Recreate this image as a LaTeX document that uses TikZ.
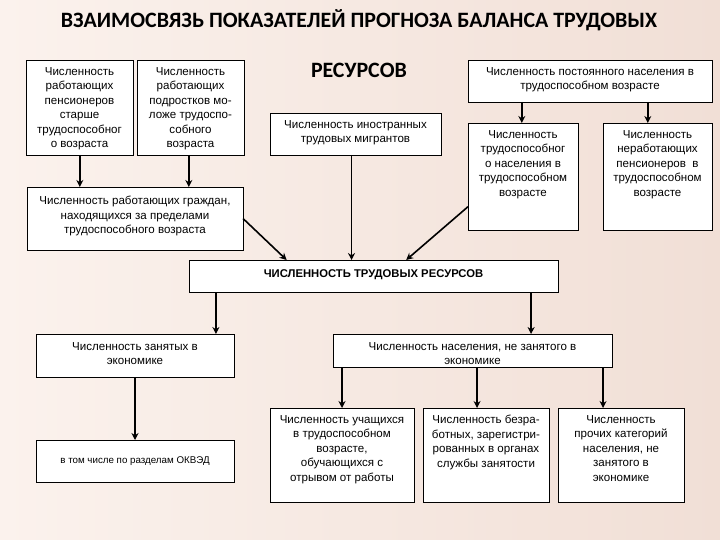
\documentclass[tikz,border=0pt]{standalone}
\usepackage{fontspec}
\setmainfont{Liberation Sans}
\newfontfamily\titlefont{Carlito}
\usetikzlibrary{arrows.meta,calc}
\definecolor{bgA}{RGB}{251,242,237}
\definecolor{bgB}{RGB}{241,223,214}
\tikzset{
  box/.style={draw=black, line width=0.9bp, fill=white, inner sep=0pt, outer sep=0pt},
  arr/.style={line width=1.6bp, -{Stealth[length=7bp,width=7bp]}},
  ttl/.style={font=\titlefont\bfseries\fontsize{22}{24}\selectfont, inner sep=0pt}
}
\newcommand{\mybox}[7]{%
  \node[box, anchor=north west] (#1) at (#2,#3)
   {\parbox[t][#5bp][t]{#4bp}{\centering\fontsize{11.6}{14.5}\selectfont\vspace*{#6bp}#7\par}};}
\begin{document}
\begin{tikzpicture}[x=1bp,y=-1bp]
\shade[left color=bgA, right color=bgB] (0,0) rectangle (720,540);
\useasboundingbox (0,0) rectangle (720,540);
\node[ttl] (t1) at (359,20) {ВЗАИМОСВЯЗЬ ПОКАЗАТЕЛЕЙ ПРОГНОЗА БАЛАНСА ТРУДОВЫХ};
\node[ttl] (t2) at (359,70) {РЕСУРСОВ};

\mybox{A}{26}{60}{107}{95}{7.5}{Численность\\работающих\\пенсионеров\\старше\\трудоспособног\\о возраста}
\mybox{B}{137}{60}{107}{95}{7.5}{Численность\\работающих\\подростков мо-\\ложе трудоспо-\\собного\\возраста}
\mybox{C}{27}{187}{216}{63}{9.5}{Численность работающих граждан,\\находящихся за пределами\\трудоспособного возраста}
\mybox{D}{270}{113}{171}{42}{7.5}{Численность иностранных\\трудовых мигрантов}
\mybox{E}{468}{60}{244}{42}{7.5}{Численность постоянного населения в\\трудоспособном возрасте}
\mybox{F}{468}{123}{110}{107}{7.5}{Численность\\трудоспособног\\о населения в\\трудоспособном\\возрасте}
\mybox{G}{603}{123}{109}{107}{7.5}{Численность\\неработающих\\пенсионеров\ \ в\\трудоспособном\\возрасте}
\node[box, anchor=north west, minimum width=369bp, minimum height=32bp,
      font=\bfseries\fontsize{11.3}{13}\selectfont, text depth=4bp] (H) at (189,260) {ЧИСЛЕННОСТЬ ТРУДОВЫХ РЕСУРСОВ};
\mybox{I}{36}{334}{198}{43}{8.5}{Численность занятых в\\экономике}
\node[box, anchor=north west, minimum width=198bp, minimum height=42bp,
      font=\fontsize{9.8}{11}\selectfont] (J) at (36,440) {в том числе по разделам ОКВЭД};
\mybox{K}{333}{334}{279}{33}{8.5}{Численность населения, не занятого в\\экономике}
\mybox{L}{270}{408}{144}{94}{7.5}{Численность учащихся\\в трудоспособном\\возрасте,\\обучающихся с\\отрывом от работы}
\mybox{M}{423}{408}{126}{94}{7.5}{Численность безра-\\ботных, зарегистри-\\рованных в органах\\службы занятости}
\mybox{N}{558}{408}{126}{94}{7.5}{Численность\\прочих категорий\\населения, не\\занятого в\\экономике}

\draw[arr] ([xshift=54]A.south west) -- ([xshift=54]A.south west |- C.north);
\draw[arr] ([xshift=52]B.south west) -- ([xshift=52]B.south west |- C.north);
\draw[arr] ([xshift=54]E.south west |- E.south) -- ([xshift=54]F.north west);
\draw[arr] ([xshift=45]G.north west |- E.south) -- ([xshift=45]G.north west);
\draw[arr] (C.east) -- ([xshift=98]H.north west);
\draw[arr] ([xshift=-4]D.south) -- ([xshift=-4]D.south |- H.north);
\draw[arr] ([yshift=-84]F.north west) -- ([xshift=218]H.north west);
\draw[arr] ([xshift=27]H.south west) -- ([xshift=27]H.south west |- I.north);
\draw[arr] ([xshift=-27]H.south east) -- ([xshift=-27]H.south east |- K.north);
\draw[arr] (I.south) -- (J.north);
\draw[arr] (L.north |- K.south) -- (L.north);
\draw[arr] ([xshift=-9]M.north |- K.south) -- ([xshift=-9]M.north);
\draw[arr] ([xshift=-18]N.north |- K.south) -- ([xshift=-18]N.north);
\end{tikzpicture}
\end{document}
